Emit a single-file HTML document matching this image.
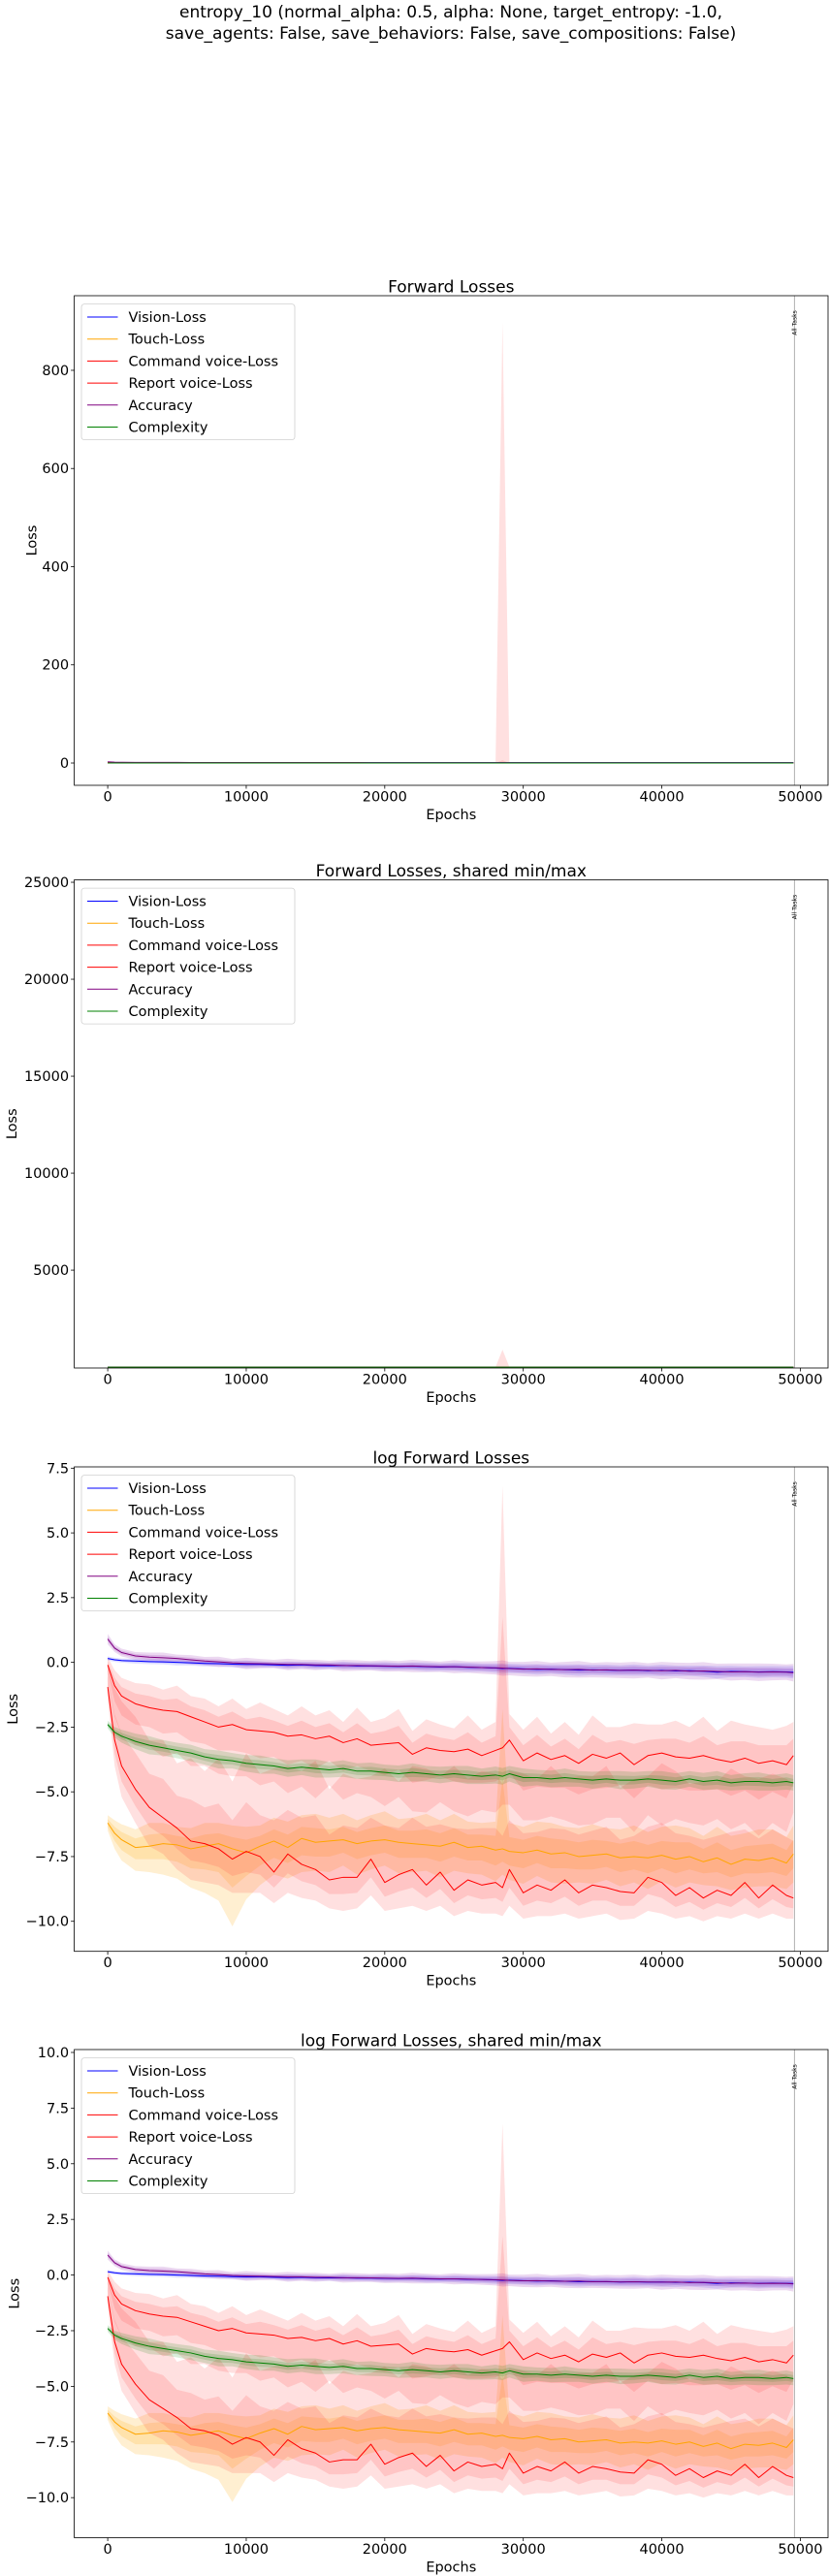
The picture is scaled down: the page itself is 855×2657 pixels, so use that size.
<!DOCTYPE html>
<html><head><meta charset="utf-8"><title>entropy_10 forward losses</title>
<style>
html,body{margin:0;padding:0;background:#fff;}
svg{display:block;font-family:"DejaVu Sans","Liberation Sans",sans-serif;}
</style></head>
<body>
<svg id="fig" width="855" height="2657" viewBox="0 0 855 2657" xmlns="http://www.w3.org/2000/svg">
<rect x="0" y="0" width="855" height="2657" fill="#fff"/>
<text x="465" y="18" font-size="17" text-anchor="middle">entropy_10 (normal_alpha: 0.5, alpha: None, target_entropy: -1.0,</text>
<text x="465" y="40" font-size="17" text-anchor="middle">save_agents: False, save_behaviors: False, save_compositions: False)</text>
</svg>
<script>
const epochs = [0,500,1000,2000,3000,4000,5000,6000,7000,8000,9000,10000,11000,12000,13000,14000,15000,16000,17000,18000,19000,20000,21000,22000,23000,24000,25000,26000,27000,28000,28500,29000,30000,31000,32000,33000,34000,35000,36000,37000,38000,39000,40000,41000,42000,43000,44000,45000,46000,47000,48000,49000,49500];
const seriesNames = ["Vision-Loss","Touch-Loss","Command voice-Loss","Report voice-Loss","Accuracy","Complexity"];
const visionMean = [0.15,0.10,0.07,0.05,0.03,0.02,0.0,-0.02,-0.04,-0.05,-0.07,-0.08,-0.08,-0.10,-0.11,-0.10,-0.12,-0.13,-0.12,-0.14,-0.14,-0.15,-0.16,-0.15,-0.17,-0.18,-0.17,-0.19,-0.20,-0.22,-0.24,-0.23,-0.25,-0.27,-0.26,-0.28,-0.30,-0.29,-0.30,-0.31,-0.30,-0.32,-0.31,-0.33,-0.32,-0.34,-0.38,-0.35,-0.36,-0.37,-0.36,-0.37,-0.38];
const visionSpread = [0.08,0.08,0.08,0.1,0.1,0.1,0.12,0.1,0.12,0.1,0.12,0.14,0.12,0.1,0.14,0.12,0.14,0.12,0.15,0.13,0.14,0.16,0.14,0.15,0.17,0.15,0.16,0.18,0.16,0.18,0.2,0.18,0.18,0.2,0.18,0.2,0.22,0.2,0.21,0.2,0.22,0.2,0.22,0.21,0.2,0.22,0.24,0.22,0.21,0.23,0.22,0.22,0.24];
const accuracyMean = [0.90,0.55,0.38,0.25,0.20,0.18,0.15,0.10,0.05,0.02,-0.02,-0.04,-0.05,-0.06,-0.08,-0.08,-0.10,-0.10,-0.12,-0.12,-0.13,-0.14,-0.15,-0.14,-0.16,-0.17,-0.17,-0.18,-0.20,-0.21,-0.22,-0.24,-0.26,-0.25,-0.27,-0.28,-0.27,-0.30,-0.29,-0.31,-0.30,-0.31,-0.32,-0.31,-0.34,-0.33,-0.35,-0.37,-0.36,-0.38,-0.37,-0.38,-0.40];
const accuracySpread = [0.2,0.15,0.15,0.15,0.18,0.2,0.15,0.18,0.16,0.2,0.15,0.22,0.18,0.16,0.22,0.18,0.2,0.16,0.22,0.2,0.18,0.22,0.2,0.24,0.22,0.2,0.25,0.22,0.24,0.26,0.3,0.26,0.28,0.3,0.26,0.3,0.32,0.28,0.3,0.3,0.32,0.28,0.34,0.3,0.32,0.34,0.3,0.33,0.32,0.34,0.32,0.3,0.34];
const commandMean = [-0.10,-0.90,-1.30,-1.60,-1.75,-1.85,-1.90,-2.10,-2.30,-2.50,-2.40,-2.60,-2.65,-2.70,-2.85,-2.80,-2.95,-2.85,-3.10,-2.95,-3.20,-3.15,-3.10,-3.55,-3.30,-3.40,-3.45,-3.35,-3.60,-3.40,-3.30,-3.00,-3.80,-3.50,-3.75,-3.60,-3.90,-3.55,-3.70,-3.50,-3.95,-3.60,-3.50,-3.65,-3.70,-3.60,-3.75,-3.85,-3.70,-3.90,-3.80,-3.95,-3.60];
const commandUp = [0.3,0.6,0.7,0.8,0.9,0.8,1.0,0.8,0.9,0.8,1.0,0.8,1.1,0.9,0.8,1.1,0.9,1.0,0.8,1.2,0.9,1.0,1.3,0.9,1.1,1.0,0.9,1.3,1.0,1.1,10.1,1.0,1.2,1.4,1.0,1.3,1.1,1.5,1.2,1.0,1.6,1.2,1.1,1.4,1.2,1.5,1.1,1.6,1.3,1.4,1.2,1.5,1.3];
const commandDown = [0.5,1.2,1.5,1.6,1.5,1.8,1.6,1.9,1.7,1.8,2.0,1.8,2.1,1.9,2.2,2.0,2.3,1.9,2.2,2.1,2.0,2.4,2.1,2.2,2.5,2.0,2.3,2.6,2.1,2.4,2.2,2.5,2.3,2.6,2.2,2.5,2.4,2.7,2.3,2.5,2.6,2.3,2.8,2.4,2.5,2.7,2.3,2.6,2.5,2.8,2.4,2.6,2.2];
const reportMean = [-0.95,-3.00,-4.00,-4.90,-5.60,-6.00,-6.40,-6.90,-7.00,-7.20,-7.60,-7.30,-7.50,-8.10,-7.40,-7.80,-8.00,-8.40,-8.30,-8.30,-7.60,-8.50,-8.20,-8.00,-8.60,-8.10,-8.80,-8.40,-8.60,-8.50,-8.70,-8.00,-8.90,-8.60,-8.80,-8.40,-8.90,-8.60,-8.70,-8.85,-8.90,-8.30,-8.50,-9.00,-8.70,-9.10,-8.80,-9.00,-8.50,-9.10,-8.60,-9.00,-9.10];
const reportUp = [0.8,2.0,2.5,2.8,2.6,3.0,2.5,3.2,2.8,3.5,3.0,3.8,3.2,4.0,3.4,3.6,4.2,3.5,4.0,3.8,3.2,4.4,3.6,4.0,4.5,3.7,4.8,3.9,4.4,4.2,4.0,3.8,4.6,4.1,4.8,3.9,4.5,4.2,4.7,4.0,4.4,3.9,4.6,4.8,4.0,4.5,4.2,4.9,4.1,4.6,4.3,4.5,4.4];
const reportDown = [0.5,1.0,1.2,1.3,1.5,1.4,1.6,1.5,1.5,1.4,1.3,1.6,1.4,1.2,1.5,1.3,1.2,1.1,1.3,1.2,1.4,1.1,1.3,1.4,1.0,1.3,1.0,1.2,1.1,1.2,1.1,1.4,1.0,1.2,1.0,1.3,1.0,1.2,1.0,1.1,1.0,1.3,1.2,0.9,1.1,0.9,1.0,0.9,1.2,0.8,1.1,0.9,0.8];
const touchMean = [-6.20,-6.60,-6.85,-7.15,-7.10,-7.00,-7.05,-7.20,-7.10,-7.00,-7.20,-7.35,-7.10,-6.90,-7.15,-6.80,-6.95,-6.90,-6.85,-7.00,-6.90,-6.85,-6.95,-7.00,-7.05,-7.10,-6.95,-7.15,-7.10,-7.25,-7.20,-7.30,-7.35,-7.25,-7.40,-7.35,-7.50,-7.45,-7.40,-7.55,-7.50,-7.55,-7.45,-7.60,-7.50,-7.70,-7.55,-7.80,-7.60,-7.65,-7.55,-7.75,-7.40];
const touchUp = [0.3,0.5,0.6,0.7,0.9,0.8,0.7,0.8,0.9,0.8,0.9,1.0,0.8,0.9,1.0,0.9,1.1,0.9,1.0,0.9,1.0,1.1,0.9,1.0,1.2,1.0,1.1,1.0,0.9,1.1,5.4,1.1,1.0,1.1,1.2,1.0,1.1,1.2,1.0,1.1,1.2,1.0,1.1,1.3,1.1,1.0,1.2,1.1,1.0,1.2,1.1,1.0,1.1];
const touchDown = [0.3,0.6,0.8,0.9,1.0,1.2,1.3,1.5,1.8,2.2,3.0,1.8,1.5,1.3,1.2,1.3,1.1,1.2,1.0,1.2,1.1,1.0,1.2,1.1,1.0,1.2,1.1,1.0,1.1,1.2,1.0,1.1,1.2,1.0,1.1,1.2,1.0,1.1,1.0,1.1,1.0,1.2,1.0,1.1,1.0,0.9,1.1,1.0,1.1,1.0,1.1,1.0,1.1];
const complexityMean = [-2.40,-2.70,-2.85,-3.05,-3.20,-3.30,-3.40,-3.50,-3.65,-3.75,-3.80,-3.90,-3.95,-4.00,-4.10,-4.05,-4.10,-4.15,-4.10,-4.20,-4.20,-4.25,-4.30,-4.25,-4.30,-4.35,-4.30,-4.35,-4.40,-4.35,-4.40,-4.30,-4.45,-4.45,-4.50,-4.45,-4.50,-4.55,-4.50,-4.55,-4.55,-4.50,-4.55,-4.60,-4.50,-4.60,-4.55,-4.65,-4.60,-4.60,-4.65,-4.60,-4.65];
const complexitySpread = [0.15,0.2,0.25,0.3,0.35,0.3,0.3,0.32,0.3,0.35,0.3,0.32,0.35,0.3,0.32,0.3,0.35,0.3,0.32,0.3,0.33,0.3,0.32,0.35,0.3,0.32,0.3,0.35,0.3,0.33,0.32,0.3,0.35,0.3,0.32,0.35,0.3,0.33,0.3,0.35,0.32,0.3,0.35,0.32,0.3,0.33,0.35,0.3,0.32,0.35,0.3,0.32,0.3];
const xTicks = [0,10000,20000,30000,40000,50000];
const yTicksP1 = [0,200,400,600,800];
const yTicksP2 = [5000,10000,15000,20000,25000];
const yTicksP3 = [-10,-7.5,-5,-2.5,0,2.5,5,7.5];
const yTicksP4 = [-10,-7.5,-5,-2.5,0,2.5,5,7.5,10];
const allTasksEpoch = 49580;

const NS = "http://www.w3.org/2000/svg";
const svg = document.getElementById('fig');
function mk(tag, attrs, parent){ const e=document.createElementNS(NS,tag); for(const k in attrs) e.setAttribute(k,attrs[k]); (parent||svg).appendChild(e); return e; }

const series = [
 {key:'vision', color:'#0000ff', fill:'rgba(60,60,255,0.15)', mean:visionMean, up:visionSpread, down:visionSpread},
 {key:'touch', color:'#ffa500', fill:'rgba(255,165,0,0.18)', mean:touchMean, up:touchUp, down:touchDown},
 {key:'command-voice', color:'#ff0000', fill:'rgba(255,50,50,0.15)', mean:commandMean, up:commandUp, down:commandDown},
 {key:'report-voice', color:'#ff0000', fill:'rgba(255,50,50,0.15)', mean:reportMean, up:reportUp, down:reportDown},
 {key:'accuracy', color:'#800080', fill:'rgba(128,0,160,0.15)', mean:accuracyMean, up:accuracySpread, down:accuracySpread},
 {key:'complexity', color:'#008000', fill:'rgba(0,128,0,0.15)', mean:complexityMean, up:complexitySpread, down:complexitySpread}
];
const legendColors = ['#0000ff','#ffa500','#ff0000','#ff0000','#800080','#008000'];

const X0 = 111.1, XS = (825.4-111.1)/50000, LEFT = 76.6, RIGHT = 854;
function xs(v){ return X0 + v*XS; }
function fmt(v, log){ if(!log) return String(v); const s=Math.abs(v).toFixed(1); return (v<0?'\u2212':'')+s; }

const panels = [
 {id:'forward-losses', title:'Forward Losses', top:305, bottom:810, ymin:-45.4, ymax:952, ticks:yTicksP1, log:false, ylabX:31.7},
 {id:'forward-losses-shared', title:'Forward Losses, shared min/max', top:907.5, bottom:1411, ymin:-45, ymax:25126, ticks:yTicksP2, log:false, ylabX:11},
 {id:'log-forward-losses', title:'log Forward Losses', top:1513, bottom:2012.7, ymin:-11.16, ymax:7.55, ticks:yTicksP3, log:true, ylabX:12},
 {id:'log-forward-losses-shared', title:'log Forward Losses, shared min/max', top:2114, bottom:2617.5, ymin:-11.8, ymax:10.13, ticks:yTicksP4, log:true, ylabX:13.7}
];

panels.forEach(p=>{
  const g = mk('g',{});
  
  
  const ys = v => p.bottom - (v - p.ymin)/(p.ymax - p.ymin)*(p.bottom - p.top);
  const tr = v => p.log ? v : Math.exp(v);
  const clipId = 'clip-'+p.id;
  const cp = mk('clipPath',{id:clipId},g);
  mk('rect',{x:LEFT,y:p.top,width:RIGHT-LEFT,height:p.bottom-p.top},cp);
  const plot = mk('g',{'clip-path':'url(#'+clipId+')'},g);
  series.forEach(s=>{
    [1,0.5].forEach((f,bi)=>{
      let up='', dn=[];
      epochs.forEach((e,i)=>{
        const hi = tr(s.mean[i] + s.up[i]*f), lo = tr(s.mean[i] - s.down[i]*f);
        up += (i?'L':'M')+xs(e).toFixed(2)+','+ys(hi).toFixed(2);
        dn.unshift('L'+xs(e).toFixed(2)+','+ys(lo).toFixed(2));
      });
      const band = mk('path',{d:up+dn.join('')+'Z', fill:s.fill, stroke:'none'},plot);
      
      
    });
  });
  series.forEach(s=>{
    let d='';
    epochs.forEach((e,i)=>{ d += (i?'L':'M')+xs(e).toFixed(2)+','+ys(tr(s.mean[i])).toFixed(2); });
    const ln = mk('path',{d:d, fill:'none', stroke:s.color, 'stroke-width':1.0, 'stroke-linejoin':'round'},plot);
    
    
  });
  const vl = mk('line',{x1:xs(allTasksEpoch),x2:xs(allTasksEpoch),y1:p.top,y2:p.bottom,stroke:'#b0b0b0','stroke-width':1},g);
  
  
  const tx = xs(allTasksEpoch)+2, ty = p.top+28;
  const at = mk('text',{x:tx,y:ty,'font-size':6,'text-anchor':'middle',transform:'rotate(-90 '+tx+' '+ty+')'},g);
  at.textContent = 'All Tasks';
  
  
  const fr = mk('rect',{x:LEFT,y:p.top,width:RIGHT-LEFT,height:p.bottom-p.top,fill:'none',stroke:'#000','stroke-width':0.8},g);
  
  
  xTicks.forEach(t=>{
    const x = xs(t);
    mk('line',{x1:x,x2:x,y1:p.bottom,y2:p.bottom+3.5,stroke:'#000','stroke-width':0.8},g);
    const tl = mk('text',{x:x,y:p.bottom+16.5,'font-size':14.5,'text-anchor':'middle'},g);
    tl.textContent = String(t);
    
    
  });
  const xl = mk('text',{x:(LEFT+RIGHT)/2,y:p.bottom+35,'font-size':14.5,'text-anchor':'middle'},g);
  xl.textContent = 'Epochs';
  
  
  p.ticks.forEach(t=>{
    const y = ys(t);
    mk('line',{x1:LEFT-3.5,x2:LEFT,y1:y,y2:y,stroke:'#000','stroke-width':0.8},g);
    const tl = mk('text',{x:LEFT-5.5,y:y+5,'font-size':14.5,'text-anchor':'end'},g);
    tl.textContent = fmt(t,p.log);
    
    
  });
  const cy = (p.top+p.bottom)/2;
  const yl = mk('text',{x:p.ylabX+6,y:cy,'font-size':14.5,'text-anchor':'middle',transform:'rotate(-90 '+(p.ylabX+6)+' '+cy+')'},g);
  yl.textContent = 'Loss';
  
  
  const tt = mk('text',{x:(LEFT+RIGHT)/2,y:p.top-3.5,'font-size':17,'text-anchor':'middle'},g);
  tt.textContent = p.title;
  
  
  const lg = mk('g',{},g);
  
  
  const lt = p.top+8.6;
  mk('rect',{x:84,y:lt,width:220,height:140,rx:3,fill:'rgba(255,255,255,0.85)',stroke:'#d0d0d0','stroke-width':0.8},lg);
  seriesNames.forEach((n,i)=>{
    const ry = lt + 13.4 + i*22.7;
    const ll = mk('line',{x1:90,x2:121.5,y1:ry,y2:ry,stroke:legendColors[i],'stroke-width':1.0},lg);
    
    
    const lt2 = mk('text',{x:132.5,y:ry+5,'font-size':14.5},lg);
    lt2.textContent = n;
    
    
  });
});
</script>
</body></html>
